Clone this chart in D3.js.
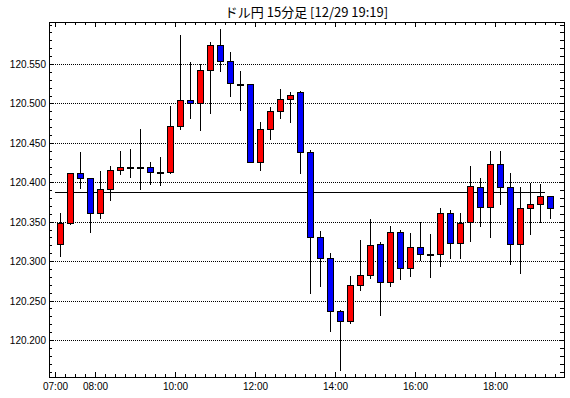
<!DOCTYPE html>
<html>
<head>
<meta charset="utf-8">
<script src="https://cdn.jsdelivr.net/npm/d3@7"></script>
<style>
  body { margin: 0; background: #fff; }
  svg { display: block; }
</style>
</head>
<body>
<svg id="chart"></svg>
<script>
const width = 570;
const height = 398;

const title = "ドル円 15分足 [12/29 19:19]";

// 15分足 (start time of each bar)
const times = [
  "07:00","07:15","07:30","07:45","08:00","08:15","08:30","08:45","09:00","09:15",
  "09:30","09:45","10:00","10:15","10:30","10:45","11:00","11:15","11:30","11:45",
  "12:00","12:15","12:30","12:45","13:00","13:15","13:30","13:45","14:00","14:15",
  "14:30","14:45","15:00","15:15","15:30","15:45","16:00","16:15","16:30","16:45",
  "17:00","17:15","17:30","17:45","18:00","18:15","18:30","18:45","19:00","19:15"
];
const opens = [
  120.322,120.349,120.412,120.406,120.361,120.392,120.415,120.420,120.420,120.420,
  120.413,120.413,120.471,120.504,120.501,120.542,120.574,120.554,120.525,120.525,
  120.426,120.468,120.491,120.505,120.514,120.438,120.330,120.304,120.237,120.224,
  120.270,120.283,120.322,120.273,120.337,120.291,120.318,120.309,120.309,120.361,
  120.323,120.350,120.394,120.369,120.423,120.394,120.322,120.368,120.373,120.382
];
const highs = [
  120.361,120.412,120.438,120.406,120.414,120.421,120.440,120.442,120.468,120.426,
  120.432,120.497,120.587,120.553,120.550,120.578,120.595,120.565,120.541,120.525,
  120.477,120.496,120.518,120.514,120.516,120.441,120.338,120.310,120.238,120.281,
  120.327,120.354,120.324,120.344,120.339,120.336,120.350,120.334,120.368,120.365,
  120.361,120.421,120.405,120.440,120.440,120.412,120.394,120.399,120.398,120.382
];
const lows = [
  120.306,120.347,120.393,120.337,120.355,120.378,120.411,120.407,120.391,120.398,
  120.397,120.412,120.468,120.482,120.466,120.488,120.541,120.509,120.492,120.426,
  120.415,120.455,120.481,120.477,120.412,120.260,120.269,120.211,120.162,120.222,
  120.264,120.278,120.232,120.268,120.277,120.281,120.302,120.280,120.294,120.304,
  120.304,120.326,120.344,120.331,120.373,120.297,120.285,120.334,120.350,120.355
];
const closes = [
  120.349,120.412,120.406,120.361,120.392,120.415,120.419,120.420,120.420,120.413,
  120.413,120.472,120.504,120.501,120.542,120.574,120.554,120.526,120.525,120.426,
  120.468,120.491,120.505,120.511,120.438,120.330,120.304,120.237,120.224,120.270,
  120.283,120.321,120.273,120.337,120.291,120.318,120.309,120.309,120.361,120.323,
  120.349,120.395,120.369,120.423,120.394,120.322,120.368,120.373,120.382,120.368
];

// 基準線
const refLevel = 120.388;

const yTickValues = [120.200, 120.250, 120.300, 120.350, 120.400, 120.450, 120.500, 120.550];
const xLabelTimes = ["07:00", "08:00", "10:00", "12:00", "14:00", "16:00", "18:00"];

const parseTime = d3.timeParse("%H:%M");

const candles = times.map((t, i) => ({
  time: parseTime(t),
  open: opens[i],
  high: highs[i],
  low: lows[i],
  close: closes[i]
}));

const svg = d3.select("#chart")
  .attr("width", width)
  .attr("height", height);

// plot frame
const frame = { left: 49, right: 564, top: 22, bottom: 377 };

const x = d3.scaleTime()
  .domain([parseTime("07:00"), parseTime("19:00")])
  .rangeRound([55, 535]);

const y = d3.scaleLinear()
  .domain([120.2, 120.55])
  .rangeRound([340, 64]);

const fontFamily = "'Liberation Sans', Arial, sans-serif";

// title
svg.append("text")
  .attr("x", (frame.left + frame.right) / 2)
  .attr("y", 17)
  .attr("text-anchor", "middle")
  .attr("font-family", "'Noto Sans CJK JP', sans-serif")
  .attr("font-size", "13px")
  .attr("fill", "#000")
  .text(title);

// grid lines
svg.append("g")
  .selectAll("line")
  .data(yTickValues)
  .join("line")
  .attr("x1", frame.left)
  .attr("x2", frame.right)
  .attr("y1", d => y(d) + 0.5)
  .attr("y2", d => y(d) + 0.5)
  .attr("stroke", "#000")
  .attr("stroke-dasharray", "1,1");

// ticks every 15 min, every 0.01
const quarterTicks = d3.timeMinute.every(15).range(parseTime("06:55"), parseTime("19:40"));
const labelTimes = xLabelTimes.map(parseTime);
const minorY = d3.range(120.16, 120.601, 0.01).map(v => +v.toFixed(2));

function styleAxis(g) {
  g.select(".domain").remove();
  g.selectAll("line").attr("stroke", "#000");
  g.selectAll("text")
    .attr("font-family", fontFamily)
    .attr("font-size", "10px")
    .attr("fill", "#000");
}

// bottom axis
svg.append("g")
  .attr("transform", `translate(0,${frame.bottom})`)
  .call(d3.axisBottom(x).tickValues(quarterTicks).tickSize(-3).tickFormat(""))
  .call(styleAxis);
svg.append("g")
  .attr("transform", `translate(0,${frame.bottom})`)
  .call(d3.axisBottom(x).tickValues(labelTimes).tickSize(-5).tickPadding(6)
    .tickFormat(d3.timeFormat("%H:%M")))
  .call(styleAxis);

// top axis
svg.append("g")
  .attr("transform", `translate(0,${frame.top})`)
  .call(d3.axisTop(x).tickValues(quarterTicks).tickSize(-3).tickFormat(""))
  .call(styleAxis);
svg.append("g")
  .attr("transform", `translate(0,${frame.top})`)
  .call(d3.axisTop(x).tickValues(labelTimes).tickSize(-5).tickFormat(""))
  .call(styleAxis);

// left axis
svg.append("g")
  .attr("transform", `translate(${frame.left},0)`)
  .call(d3.axisLeft(y).tickValues(minorY).tickSize(-3).tickFormat(""))
  .call(styleAxis);
svg.append("g")
  .attr("transform", `translate(${frame.left},0)`)
  .call(d3.axisLeft(y).tickValues(yTickValues).tickSize(-5).tickPadding(3)
    .tickFormat(d3.format(".3f")))
  .call(styleAxis);

// right axis
svg.append("g")
  .attr("transform", `translate(${frame.right},0)`)
  .call(d3.axisRight(y).tickValues(minorY).tickSize(-4).tickFormat(""))
  .call(styleAxis);

// frame
svg.append("rect")
  .attr("x", frame.left + 0.5)
  .attr("y", frame.top + 0.5)
  .attr("width", frame.right - frame.left)
  .attr("height", frame.bottom - frame.top)
  .attr("fill", "none")
  .attr("stroke", "#000");

// reference line
svg.append("line")
  .attr("x1", x(candles[0].time))
  .attr("x2", x(candles[candles.length - 1].time))
  .attr("y1", y(refLevel) + 0.5)
  .attr("y2", y(refLevel) + 0.5)
  .attr("stroke", "#000");

// candles
const half = d3.timeMinute.offset(parseTime("00:00"), 7.5) - parseTime("00:00");
const cx = d => x(new Date(+d.time + half));

const candle = svg.append("g")
  .selectAll("g.candle")
  .data(candles)
  .join("g")
  .attr("class", "candle");

candle.append("line")
  .attr("x1", d => cx(d) + 0.5)
  .attr("x2", d => cx(d) + 0.5)
  .attr("y1", d => y(d.high))
  .attr("y2", d => y(d.low) + 1)
  .attr("stroke", "#000");

candle.append("rect")
  .attr("x", d => cx(d) - 2.5)
  .attr("y", d => y(Math.max(d.open, d.close)) + 0.5)
  .attr("width", 6)
  .attr("height", d => Math.max(1, y(Math.min(d.open, d.close)) - y(Math.max(d.open, d.close))))
  .attr("fill", d => d.close > d.open ? "#ff0000" : "#0000ff")
  .attr("stroke", "#000");
</script>
</body>
</html>
